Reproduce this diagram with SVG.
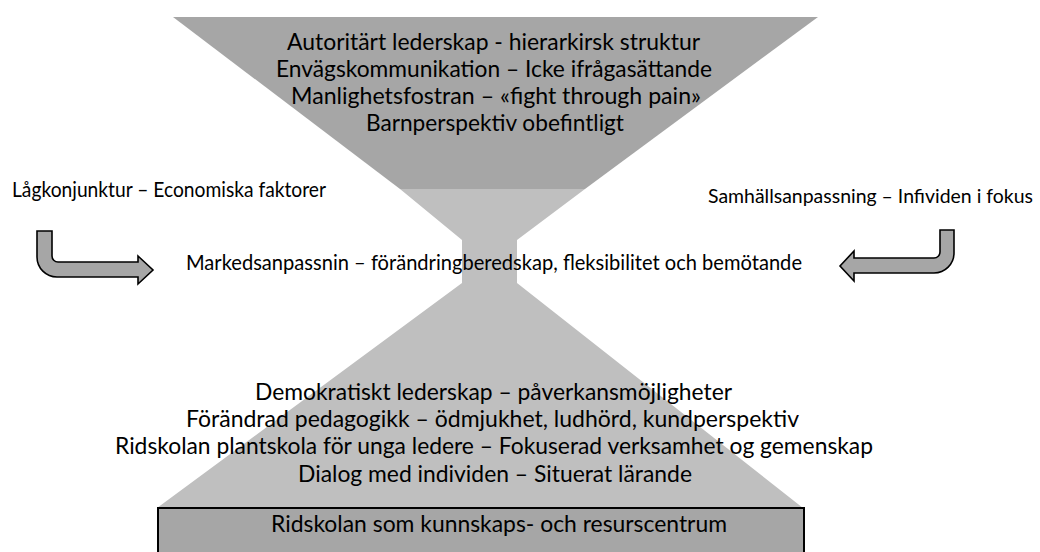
<svg xmlns="http://www.w3.org/2000/svg" width="1040" height="552" viewBox="0 0 1040 552">
<style>
  .t { font-family: Lato, "Liberation Sans", Arial, sans-serif; fill: #000; }
  .big { font-size: 23px; }
  .mid { font-size: 20.5px; }
  .rlab { font-size: 19.5px; }
  .dark { fill: #a6a6a6; }
  .light { fill: #bfbfbf; }
  .arrow { fill: #a6a6a6; stroke: #000; stroke-width: 1.6; stroke-linejoin: miter; }
</style>
<rect width="1040" height="552" fill="#ffffff"/>
<g id="hourglass">
  <polygon class="light" points="400,189 585,189 517,240 517,283 803,508 157,508 462,283 462,240"/>
</g>
<g id="top-node">
  <polygon class="dark" points="173,17 818,17 585,189 400,189"/>
  <text class="t big" x="287" y="50" textLength="413" lengthAdjust="spacingAndGlyphs">Autoritärt lederskap - hierarkirsk struktur</text>
  <text class="t big" x="276" y="77" textLength="436" lengthAdjust="spacingAndGlyphs">Envägskommunikation – Icke ifrågasättande</text>
  <text class="t big" x="291" y="104" textLength="410" lengthAdjust="spacingAndGlyphs">Manlighetsfostran – «fight through pain»</text>
  <text class="t big" x="366" y="131" textLength="258" lengthAdjust="spacingAndGlyphs">Barnperspektiv obefintligt</text>
</g>
<g id="left-factor">
  <text class="t mid" x="12" y="197" textLength="314" lengthAdjust="spacingAndGlyphs">Lågkonjunktur – Economiska faktorer</text>
</g>
<g id="right-factor">
  <text class="t rlab" x="708" y="203" textLength="325" lengthAdjust="spacingAndGlyphs">Samhällsanpassning – Infividen i fokus</text>
</g>
<g id="middle-node">
  <text class="t mid" x="186" y="270" textLength="616" lengthAdjust="spacingAndGlyphs">Markedsanpassnin – förändringberedskap, fleksibilitet och bemötande</text>
</g>
<g id="bottom-node">
  <text class="t big" x="255" y="400" textLength="477" lengthAdjust="spacingAndGlyphs">Demokratiskt lederskap – påverkansmöjligheter</text>
  <text class="t big" x="186" y="427" textLength="613" lengthAdjust="spacingAndGlyphs">Förändrad pedagogikk – ödmjukhet, ludhörd, kundperspektiv</text>
  <text class="t big" x="115" y="454" textLength="758" lengthAdjust="spacingAndGlyphs">Ridskolan plantskola för unga ledere – Fokuserad verksamhet og gemenskap</text>
  <text class="t big" x="298" y="482" textLength="394" lengthAdjust="spacingAndGlyphs">Dialog med individen – Situerat lärande</text>
</g>
<g id="base-node">
  <rect x="158" y="508" width="646" height="60" fill="#a6a6a6" stroke="#000" stroke-width="2"/>
  <text class="t big" x="271" y="532" textLength="456" lengthAdjust="spacingAndGlyphs">Ridskolan som kunnskaps- och resurscentrum</text>
</g>
<g id="connectors">
  <path class="arrow" d="M37,231 H52 V256 A6,6 0 0 0 58,262 H138 V256 L153,270 L138,284 V277 H57 A20,20 0 0 1 37,257 Z"/>
  <path class="arrow" d="M954,230 V253 A20,20 0 0 1 934,273 H854 V281 L840,266 L854,251 V258 H934 A6,6 0 0 0 940,252 V230 Z"/>
</g>
</svg>
